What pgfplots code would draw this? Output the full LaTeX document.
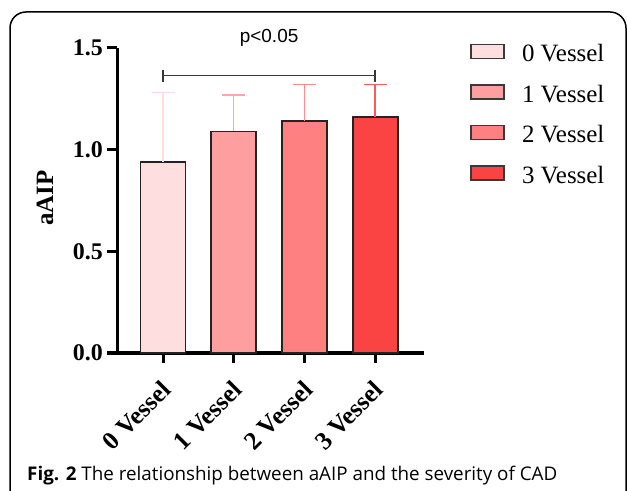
\documentclass[border=0pt]{standalone}
\usepackage{pgfplots}
\pgfplotsset{compat=1.18}
\usepackage{fontspec}
\setmainfont{Liberation Serif}
\newfontfamily\psans{Liberation Sans}
\newfontfamily\capfont{Open Sans}
\definecolor{cA}{RGB}{255,222,224}
\definecolor{cB}{RGB}{255,158,158}
\definecolor{cC}{RGB}{255,128,128}
\definecolor{cD}{RGB}{250,67,67}
\definecolor{eA}{RGB}{255,222,226}
\definecolor{eB}{RGB}{255,165,170}
\definecolor{eC}{RGB}{255,140,140}
\definecolor{eD}{RGB}{255,90,90}
\definecolor{bord}{RGB}{35,35,35}
\definecolor{brk}{RGB}{55,55,55}
\begin{document}
\begin{tikzpicture}
\useasboundingbox (0,0) rectangle (627bp,491bp);
\draw[line width=1.5bp, rounded corners=16bp] (10bp,-10bp) -- (10bp,479bp) -- (626bp,479bp) -- (626bp,-10bp);
\begin{axis}[
  at={(163bp,138bp)}, anchor=origin,
  scale only axis, width=307bp, height=305bp,
  xmin=-0.65, xmax=3.69, ymin=0, ymax=1.5,
  axis x line=bottom, axis y line=left,
  axis line style={-, line width=3bp, black},
  tick align=outside, major tick length=10bp,
  tick style={line width=3bp, black},
  xtick={0,1,2,3},
  xticklabels={0 Vessel,1 Vessel,2 Vessel,3 Vessel},
  ytick={0,0.5,1.0,1.5},
  /pgf/number format/fixed, /pgf/number format/fixed zerofill, /pgf/number format/precision=1,
  /pgf/number format/assume math mode=true,
  yticklabel style={font=\fontsize{24}{24}\selectfont\bfseries, inner sep=4bp},
  xticklabel style={font=\fontsize{25.5}{25.5}\selectfont\bfseries, rotate=45, anchor=north east, inner sep=2bp, xshift=-11bp, yshift=-7bp},
  ylabel={aAIP},
  ylabel style={font=\fontsize{25}{25}\selectfont\bfseries, at={(axis description cs:-0.2345,0.508)}, anchor=center},
  clip=false,
  ybar, bar width=45bp, bar shift=0pt,
  every axis plot/.append style={draw=bord, line width=1.6bp},
  error bars/y dir=plus, error bars/y explicit,
  legend image code/.code={\draw[#1, line width=1.5bp, draw=bord!90] (0bp,-3bp) rectangle (33bp,11bp); \path[draw=none, fill=none] (0bp,0bp) -- (51bp,0bp);},
  legend style={draw=none, fill=none, at={(1.150,1.014)}, anchor=north west, inner sep=0pt,
    font=\fontsize{25}{25}\selectfont, row sep=17.7bp,
    nodes={inner sep=0pt, text height=17bp, text depth=5bp}},
  legend cell align=left,
]
\addplot[fill=cA, error bars/error bar style={draw=eA, line width=1.5bp}, error bars/error mark options={rotate=90, mark size=11.5bp, line width=1.5bp, draw=eA}]
  coordinates {(0,0.94) +- (0,0.34)};
\addplot[fill=cB, error bars/error bar style={draw=eB, line width=1.5bp}, error bars/error mark options={rotate=90, mark size=11.5bp, line width=1.5bp, draw=eB}]
  coordinates {(1,1.09) +- (0,0.18)};
\addplot[fill=cC, error bars/error bar style={draw=eC, line width=1.5bp}, error bars/error mark options={rotate=90, mark size=11.5bp, line width=1.5bp, draw=eC}]
  coordinates {(2,1.14) +- (0,0.18)};
\addplot[fill=cD, error bars/error bar style={draw=eD, line width=1.5bp}, error bars/error mark options={rotate=90, mark size=11.5bp, line width=1.5bp, draw=eD}]
  coordinates {(3,1.16) +- (0,0.16)};
\legend{0 Vessel,1 Vessel,2 Vessel,3 Vessel}
\draw[brk, line width=1.6bp] (axis cs:0,1.394) -- (axis cs:0,1.335);
\draw[brk, line width=1.6bp] (axis cs:3,1.394) -- (axis cs:3,1.335);
\draw[brk, line width=1.6bp] (axis cs:0,1.364) -- (axis cs:3,1.364);
\node[anchor=base, font=\psans\fontsize{19}{19}\selectfont] at (axis cs:1.5,1.527) {p<0.05};
\end{axis}
\node[anchor=base west, inner sep=0pt] at (27bp,10bp) {\resizebox{530bp}{!}{\capfont\textbf{Fig. 2} The relationship between aAIP and the severity of CAD}};
\end{tikzpicture}
\end{document}
